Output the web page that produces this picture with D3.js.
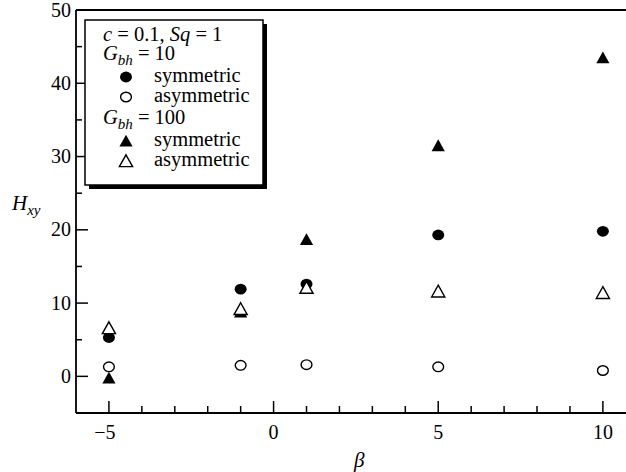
<!DOCTYPE html>
<html>
<head>
<meta charset="utf-8">
<script src="https://cdn.jsdelivr.net/npm/d3@7"></script>
</head>
<body style="margin:0">
<script>
// β values and H_xy results for each case
const beta = [-5, -1, 1, 5, 10];
const g10Sym = [5.3, 11.9, 12.6, 19.3, 19.8];
const g10Asym = [1.3, 1.5, 1.6, 1.3, 0.8];
const g100Sym = [-0.2, 8.8, 18.7, 31.5, 43.5];
const g100Asym = [6.6, 9.2, 12.1, 11.6, 11.4];

const xTicks = [-5, 0, 5, 10];
const yTicks = [0, 10, 20, 30, 40, 50];

const FONT = "Liberation Serif";
const W = 626, H = 472;
const svg = d3.select("body").append("svg").attr("width", W).attr("height", H)
  .style("display", "block").style("font-family", FONT);

const x = d3.scaleLinear().domain([-6, 11]).range([76, 76 + 17 * 32.93]);
const y = d3.scaleLinear().domain([-5, 50]).range([413, 10]);

const frame = svg.append("g").attr("stroke", "#000").attr("stroke-width", 1.8).attr("fill", "none");
frame.append("line").attr("x1", x(-6)).attr("x2", W + 5).attr("y1", y(-5)).attr("y2", y(-5));
frame.append("line").attr("x1", x(-6)).attr("x2", x(-6)).attr("y1", y(-5)).attr("y2", y(50));
frame.append("line").attr("x1", x(-6)).attr("x2", W + 5).attr("y1", y(50)).attr("y2", y(50));

// x ticks (inward): major every 5, minor every 1
const ticks = svg.append("g").attr("stroke", "#000").attr("stroke-width", 1.5);
d3.range(-5, 12).forEach(v => {
  const major = v % 5 === 0;
  ticks.append("line").attr("x1", x(v)).attr("x2", x(v))
    .attr("y1", y(-5)).attr("y2", y(-5) - (major ? 12 : 7));
});
// y ticks (inward): major every 10, minor every 5
d3.range(0, 50, 5).forEach(v => {
  const major = v % 10 === 0;
  ticks.append("line").attr("x1", x(-6)).attr("x2", x(-6) + (major ? 12 : 6))
    .attr("y1", y(v)).attr("y2", y(v));
});

const fmt = v => (v < 0 ? "\u2212" + Math.abs(v) : String(v));
svg.append("g").selectAll("text").data(xTicks).join("text")
  .style("font-family", FONT)
  .attr("x", d => x(d) + (d < 0 ? -4 : 0)).attr("y", 439)
  .attr("text-anchor", "middle").attr("font-size", 20).text(fmt);
svg.append("g").selectAll("text").data(yTicks).join("text")
  .style("font-family", FONT)
  .attr("x", 71).attr("y", d => y(d) + 6.5)
  .attr("text-anchor", "end").attr("font-size", 20).text(fmt);

// axis titles
svg.append("text").style("font-family", FONT).attr("x", x(2.6)).attr("y", 467).attr("font-size", 21)
  .style("font-style", "italic").attr("text-anchor", "middle").text("β");
const hl = svg.append("text").style("font-family", FONT).attr("x", 12).attr("y", 210).attr("font-size", 21).style("font-style", "italic");
hl.append("tspan").text("H");
hl.append("tspan").attr("dy", 5).attr("font-size", 15).text("xy");

// marker shapes
const tri = (cx, cy) => `M${cx},${cy - 6.2}L${cx + 6.6},${cy + 5.6}L${cx - 6.6},${cy + 5.6}Z`;
function circles(g, vals, filled) {
  g.selectAll(null).data(beta.map((b, i) => [b, vals[i]])).join("ellipse")
    .attr("cx", d => x(d[0])).attr("cy", d => y(d[1])).attr("rx", filled ? 6 : 5.4).attr("ry", filled ? 5.4 : 4.8)
    .attr("fill", filled ? "#000" : "#fff").attr("stroke", "#000").attr("stroke-width", filled ? 0 : 1.4);
}
function triangles(g, vals, filled) {
  g.selectAll(null).data(beta.map((b, i) => [b, vals[i]])).join("path")
    .attr("d", d => tri(x(d[0]), y(d[1])))
    .attr("fill", filled ? "#000" : "#fff").attr("stroke", "#000").attr("stroke-width", filled ? 0 : 1.4)
    .attr("stroke-linejoin", "miter");
}
const marks = svg.append("g");
circles(marks.append("g"), g10Sym, true);
triangles(marks.append("g"), g100Sym, true);
circles(marks.append("g"), g10Asym, false);
triangles(marks.append("g"), g100Asym, false);

// legend box with drop shadow
const lg = svg.append("g");
lg.append("rect").attr("x", 89).attr("y", 24).attr("width", 178).attr("height", 165).attr("fill", "#000");
lg.append("rect").attr("x", 85).attr("y", 20).attr("width", 178).attr("height", 165)
  .attr("fill", "#fff").attr("stroke", "#000").attr("stroke-width", 1.5);

const fs = 20.5;
const t1 = lg.append("text").style("font-family", FONT).attr("x", 103).attr("y", 41).attr("font-size", fs);
t1.append("tspan").style("font-style", "italic").text("c");
t1.append("tspan").text(" = 0.1, ");
t1.append("tspan").style("font-style", "italic").text("Sq");
t1.append("tspan").text(" = 1");

function gbh(yy, val) {
  const t = lg.append("text").style("font-family", FONT).attr("x", 103).attr("y", yy).attr("font-size", fs);
  t.append("tspan").style("font-style", "italic").text("G");
  t.append("tspan").style("font-style", "italic").attr("font-size", 15).attr("dy", 5).text("bh");
  t.append("tspan").attr("dy", -5).text(" = " + val);
}
gbh(60, "10");
gbh(124, "100");

const rows = [
  { y: 82, kind: "circle", filled: true, label: "symmetric" },
  { y: 102, kind: "circle", filled: false, label: "asymmetric" },
  { y: 146, kind: "tri", filled: true, label: "symmetric" },
  { y: 166, kind: "tri", filled: false, label: "asymmetric" }
];
rows.forEach(r => {
  const cy = r.y - 5;
  if (r.kind === "circle") {
    lg.append("ellipse").attr("cx", 126).attr("cy", cy).attr("rx", r.filled ? 6 : 5.4).attr("ry", r.filled ? 5.4 : 4.8)
      .attr("fill", r.filled ? "#000" : "#fff").attr("stroke", "#000").attr("stroke-width", r.filled ? 0 : 1.4);
  } else {
    lg.append("path").attr("d", tri(126, cy))
      .attr("fill", r.filled ? "#000" : "#fff").attr("stroke", "#000").attr("stroke-width", r.filled ? 0 : 1.4);
  }
  lg.append("text").style("font-family", FONT).attr("x", 154).attr("y", r.y).attr("font-size", fs).text(r.label);
});
</script>
</body>
</html>
